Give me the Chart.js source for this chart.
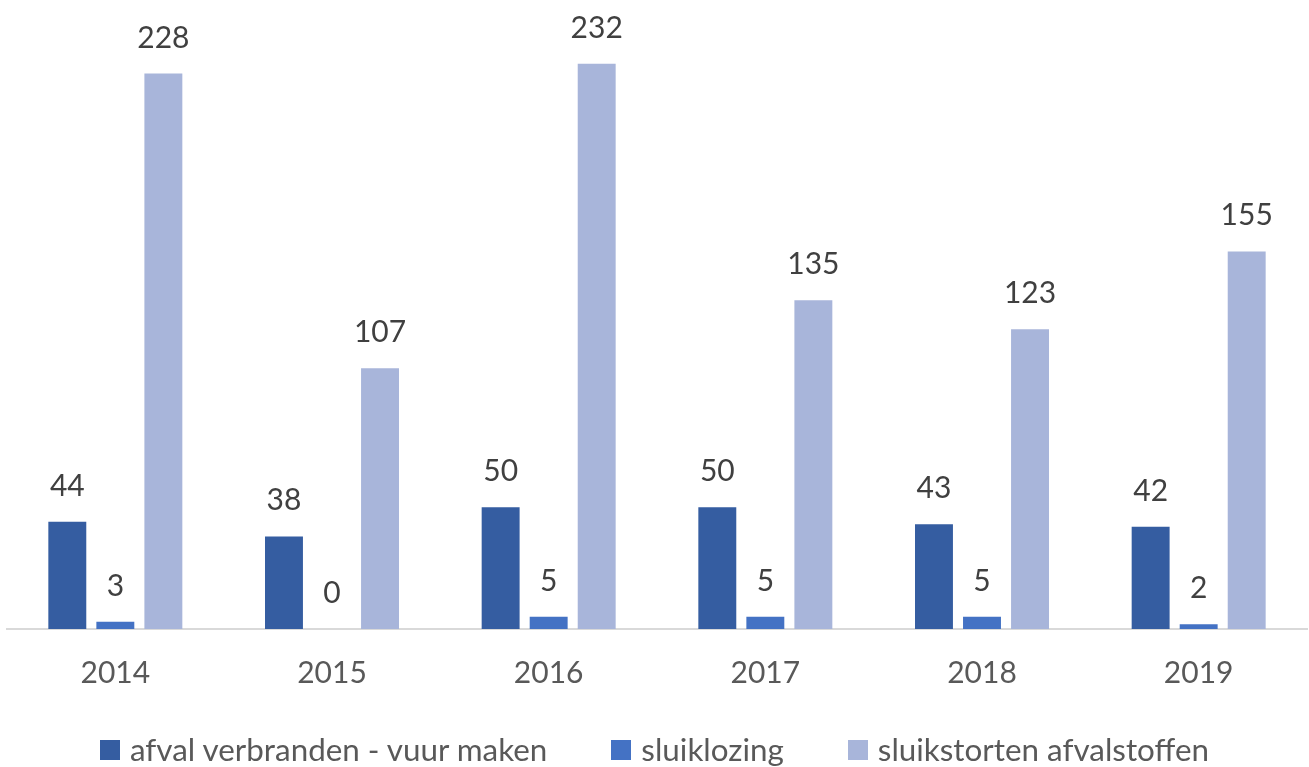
<!DOCTYPE html>
<html>
<head>
<meta charset="utf-8">
<script src="https://cdn.jsdelivr.net/npm/chart.js"></script>
<style>
  html, body { margin: 0; padding: 0; background: #fff; }
  #wrap { position: relative; width: 1309px; height: 767px; }
  #legende {
    position: absolute; left: 0; right: 0; top: 734px; height: 32px;
    display: flex; justify-content: center; align-items: center; gap: 64px;
    font-family: Lato, "Open Sans", sans-serif; font-size: 31.4px; line-height: 1; color: #595959;
  }
  #legende .item { display: flex; align-items: center; gap: 10px; white-space: nowrap; }
  #legende .vak { width: 20px; height: 20px; display: inline-block; }
</style>
</head>
<body>
<div id="wrap">
  <canvas id="chart" width="1309" height="767"></canvas>
  <div id="legende"></div>
</div>
<script>
// jaren en reeksen
const jaren = ['2014', '2015', '2016', '2017', '2018', '2019'];
const afvalVerbranden = [44, 38, 50, 50, 43, 42];
const sluiklozing = [3, 0, 5, 5, 5, 2];
const sluikstorten = [228, 107, 232, 135, 123, 155];

const FONT = 'Lato, "Open Sans", sans-serif';

// labels boven de staven tekenen
const waardeLabels = {
  id: 'waardeLabels',
  afterDatasetsDraw(chart) {
    const ctx = chart.ctx;
    ctx.save();
    ctx.font = '30px ' + FONT;
    ctx.fillStyle = '#404040';
    ctx.textAlign = 'center';
    ctx.textBaseline = 'alphabetic';
    chart.data.datasets.forEach((ds, i) => {
      chart.getDatasetMeta(i).data.forEach((bar, j) => {
        ctx.fillText(String(ds.data[j]), bar.x, bar.y - 26);
      });
    });
    ctx.restore();
  }
};

const grafiek = new Chart(document.getElementById('chart'), {
  type: 'bar',
  data: {
    labels: jaren,
    datasets: [
      { label: 'afval verbranden - vuur maken', data: afvalVerbranden, backgroundColor: '#355DA1' },
      { label: 'sluiklozing', data: sluiklozing, backgroundColor: '#4472C4' },
      { label: 'sluikstorten afvalstoffen', data: sluikstorten, backgroundColor: '#A8B5DA' }
    ]
  },
  options: {
    responsive: false,
    animation: false,
    layout: { padding: { top: 20, left: 7, right: 2, bottom: 50 } },
    datasets: { bar: { categoryPercentage: 0.665, barPercentage: 0.79 } },
    scales: {
      x: {
        grid: { display: false, drawTicks: false },
        border: { display: true, color: '#d9d9d9', width: 2 },
        ticks: { color: '#595959', font: { family: FONT, size: 30 }, padding: 26 }
      },
      y: {
        display: false,
        min: 0,
        max: 250
      }
    },
    plugins: {
      legend: { display: false },
      tooltip: { enabled: false }
    }
  },
  plugins: [waardeLabels]
});

// legende onder de grafiek, uit de datasets opgebouwd
const legende = document.getElementById('legende');
grafiek.data.datasets.forEach(ds => {
  const item = document.createElement('span');
  item.className = 'item';
  const vak = document.createElement('span');
  vak.className = 'vak';
  vak.style.background = ds.backgroundColor;
  const tekst = document.createElement('span');
  tekst.textContent = ds.label;
  item.appendChild(vak);
  item.appendChild(tekst);
  legende.appendChild(item);
});
</script>
</body>
</html>
